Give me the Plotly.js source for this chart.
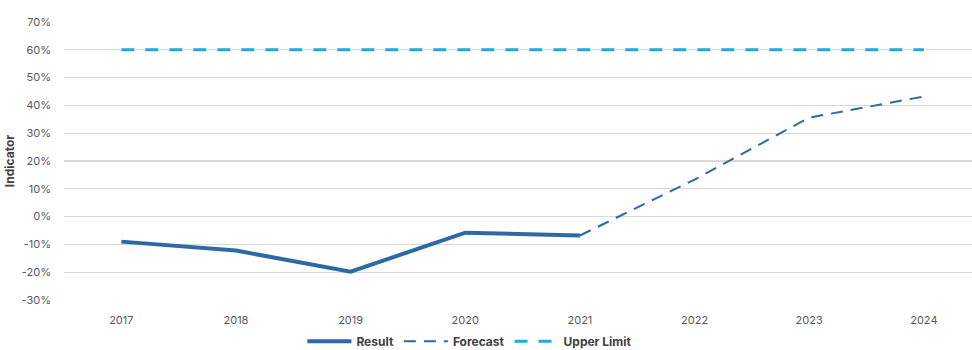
<!DOCTYPE html>
<html><head><meta charset="utf-8">
<script src="https://cdn.plot.ly/plotly-3.0.1.min.js"></script>
<style>html,body{margin:0;padding:0;background:#fff}#c{width:972px;height:350px}</style>
</head><body><div id="c"></div>
<script>
const years = ['2017','2018','2019','2020','2021','2022','2023','2024'];
const resultYears = ['2017','2018','2019','2020','2021'];
const resultVals = [-9.0, -12.2, -19.8, -5.8, -6.8];
const forecastYears = ['2021','2022','2023','2024'];
const forecastVals = [-6.8, 13.3, 35.6, 43.2];
const upperVals = [60, 60, 60, 60, 60, 60, 60, 60];
const yTicks = [-30,-20,-10,0,10,20,30,40,50,60,70];
const yTickText = yTicks.map(v => v + '%');

const traces = [
  {x: resultYears, y: resultVals, name: 'Result', mode: 'lines',
   line: {color: '#2c6aa5', width: 4}},
  {x: forecastYears, y: forecastVals, name: 'Forecast', mode: 'lines',
   line: {color: '#2c6aa5', width: 2, dash: '12px,8px'}},
  {x: years, y: upperVals, name: 'Upper Limit', mode: 'lines',
   line: {color: '#1ea9d9', width: 3, dash: '13px,11px'}}
];
const layout = {
  width: 972, height: 350,
  margin: {l: 64, r: 0, t: 22, b: 50, autoexpand: false},
  paper_bgcolor: '#fff', plot_bgcolor: '#fff',
  font: {family: 'Inter, Lato, sans-serif', color: '#595959', size: 11},
  showlegend: true,
  legend: {orientation: 'h', x: 0.447, xanchor: 'center', yref: 'container', y: 0.025, yanchor: 'middle',
    font: {size: 12, color: '#404040', weight: 'bold'}, traceorder: 'normal',
    itemwidth: 44},
  xaxis: {type: 'category', categoryarray: years, range: [-0.5, 7.42],
    showgrid: false, zeroline: false, showline: false, ticks: '', ticklabelstandoff: 12,
    tickfont: {size: 11, color: '#595959'}, fixedrange: true},
  yaxis: {range: [-30, 70], tickvals: yTicks, ticktext: yTickText,
    showgrid: true, gridcolor: '#d9d9d9', gridwidth: 1.3, zeroline: false,
    showline: false, ticks: '', ticklabelstandoff: 12,
    tickfont: {size: 11, color: '#595959'},
    title: {text: 'Indicator', font: {size: 12, color: '#404040', weight: 'bold'}, standoff: 4}}
};
Plotly.newPlot('c', traces, layout, {displayModeBar: false, staticPlot: true});
</script></body></html>
